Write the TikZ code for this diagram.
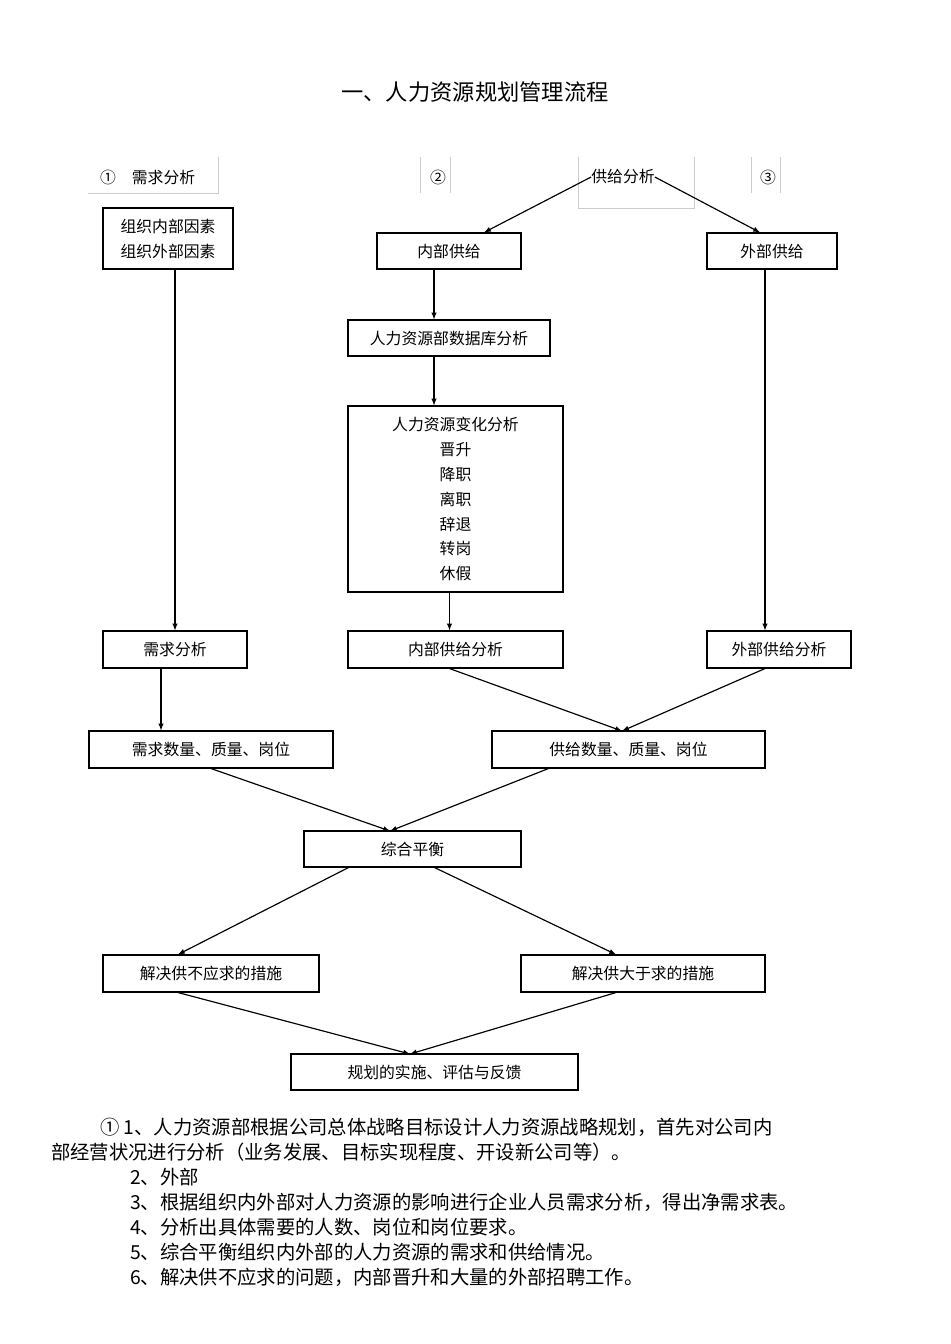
\documentclass[tikz,border=0pt]{standalone}
\usepackage{fontspec}
\setmainfont{Noto Sans CJK SC}
\usetikzlibrary{calc}
\newcommand\bx[6]{\node[box,minimum width={(#4-#2)*0.03cm},minimum height={(#5-#3)*0.03cm}] (#1) at ({(#2+#4)/2},{(#3+#5)/2}) {#6};}
\begin{document}
\begin{tikzpicture}[x=0.03cm,y=-0.03cm,
 box/.style={draw,line width=0.9pt,inner sep=0pt,align=center,font=\fontsize{13.5}{21.3}\selectfont},
 arr/.style={-latex,line width=1pt},
 faint/.style={draw=black!20,line width=0.5pt},
 txt/.style={font=\fontsize{13.5}{15}\selectfont,inner sep=0pt,anchor=west},
 note/.style={font=\fontsize{16.5}{18}\selectfont,inner sep=0pt,anchor=west}]
\useasboundingbox (0,0) rectangle (950,1344);
\node[font=\fontsize{19}{22}\selectfont] (title) at (475,92) {一、人力资源规划管理流程};
% header
\node[txt] (h1) at (100,177) {①\hspace{1em}需求分析};
\draw[faint] (88,193) -- (218,193) -- (218,157);
\node[txt] (h2) at (430,177) {②};
\draw[faint] (420,157) -- (420,193); \draw[faint] (450,157) -- (450,193);
\node[font=\fontsize{13.5}{15}\selectfont,inner sep=0pt] (sup) at (623,177) {供给分析};
\draw[faint] (578,157) -- (578,208) -- (694,208) -- (694,157);
\node[txt] (h3) at (760,177) {③};
\draw[faint] (751,157) -- (751,193); \draw[faint] (780,157) -- (780,193);
% boxes
\bx{fac}{103}{208}{233}{269}{组织内部因素\\组织外部因素}
\bx{ins}{377}{233}{521}{269}{内部供给}
\bx{ext}{707}{233}{837}{269}{外部供给}
\bx{db}{348}{320}{550}{356}{人力资源部数据库分析}
\node[box,minimum width={215*0.03cm},minimum height={186*0.03cm}] (chg) at (455.5,499) {人力资源变化分析\\晋升\\降职\\离职\\辞退\\转岗\\休假};
\bx{dem}{103}{631}{247}{668}{需求分析}
\bx{insa}{348}{631}{563}{668}{内部供给分析}
\bx{exta}{707}{631}{851}{668}{外部供给分析}
\bx{demq}{89}{731}{333}{768}{需求数量、质量、岗位}
\bx{supq}{492}{731}{765}{768}{供给数量、质量、岗位}
\bx{bal}{304}{831}{521}{867}{综合平衡}
\bx{sol1}{103}{955}{319}{992}{解决供不应求的措施}
\bx{sol2}{521}{955}{765}{992}{解决供大于求的措施}
\bx{plan}{291}{1054}{578}{1090}{规划的实施、评估与反馈}
% arrows
\draw[arr] (sup.west) -- ($(ins.north)+(35*0.03cm,0)$);
\draw[arr] (sup.east) -- ($(ext.north)+(-12*0.03cm,0)$);
\draw[arr] (fac.south -| dem.north) -- (dem.north);
\draw[arr] (ins.south -| db.north) ++(-15*0.03cm,0) coordinate (c1) -- (c1 |- db.north);
\draw[arr] (db.south) ++(-15*0.03cm,0) coordinate (c2) -- (c2 |- chg.north);
\draw[arr] ($(chg.south)+(-6*0.03cm,0)$) coordinate (c3) -- (c3 |- insa.north);
\draw[arr] ($(ext.south)+(-7*0.03cm,0)$) coordinate (c4) -- (c4 |- exta.north);
\draw[arr] ($(dem.south)+(-14*0.03cm,0)$) coordinate (c5) -- (c5 |- demq.north);
\coordinate (m1) at (622,731);
\draw[arr] ($(insa.south)+(-6*0.03cm,0)$) -- (m1);
\draw[arr] ($(exta.south)+(-14*0.03cm,0)$) -- (m1);
\coordinate (m2) at (390,831);
\draw[arr] (demq.south) -- (m2);
\draw[arr] ($(supq.south)+(-80*0.03cm,0)$) -- (m2);
\draw[arr] ($(bal.south)+(-64*0.03cm,0)$) -- ($(sol1.north)+(-33*0.03cm,0)$);
\draw[arr] ($(bal.south)+(22*0.03cm,0)$) -- ($(sol2.north)+(-27*0.03cm,0)$);
\coordinate (m3) at (410,1054);
\draw[arr] ($(sol1.south)+(-33*0.03cm,0)$) -- (m3);
\draw[arr] ($(sol2.south)+(-27*0.03cm,0)$) -- (m3);
% notes
\node[note] (n1) at (100,1127) {①\ 1、人力资源部根据公司总体战略目标设计人力资源战略规划，首先对公司内};
\node[note] (n1b) at (51,1152) {部经营状况进行分析（业务发展、目标实现程度、开设新公司等）。};
\node[note] (n2) at (130,1177) {2、外部};
\node[note] (n3) at (130,1202) {3、根据组织内外部对人力资源的影响进行企业人员需求分析，得出净需求表。};
\node[note] (n4) at (130,1227) {4、分析出具体需要的人数、岗位和岗位要求。};
\node[note] (n5) at (130,1252) {5、综合平衡组织内外部的人力资源的需求和供给情况。};
\node[note] (n6) at (130,1277) {6、解决供不应求的问题，内部晋升和大量的外部招聘工作。};
\end{tikzpicture}
\end{document}
